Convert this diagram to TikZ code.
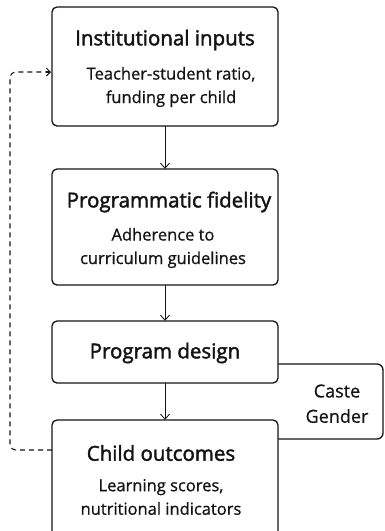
\documentclass[tikz,border=0pt]{standalone}
\usepackage{fontspec}
\setmainfont{Open Sans}
\newfontfamily\titlefont{Open Sans}[FakeBold=2.0]
\newfontfamily\subfont{Open Sans}[FakeBold=0.8]
\usetikzlibrary{arrows.meta}
\definecolor{ink}{HTML}{141414}
\begin{document}
\begin{tikzpicture}[x=1pt,y=-1pt,
  boxst/.style={draw=ink,line width=1.3pt,rounded corners=5pt,fill=white},
  titlest/.style={text=ink,font=\titlefont\fontsize{20.5}{22}\selectfont,inner sep=0pt},
  subst/.style={text=ink,font=\subfont\fontsize{16.5}{23.5}\selectfont,align=center,inner sep=0pt},
  sidest/.style={text=ink,font=\subfont\fontsize{18}{20}\selectfont,inner sep=0pt},
  arr/.style={draw=ink,line width=0.85pt,-{Straight Barb[length=5pt,width=9pt]}},
  fb/.style={draw=ink,line width=1.05pt,dash pattern=on 5pt off 4pt,rounded corners=6pt}]
\useasboundingbox (0,0) rectangle (384,531);
\begin{scope}
\clip (0,0) rectangle (384,531);
% Caste / Gender bracket box
\draw[draw=ink,line width=1.3pt,rounded corners=6pt] (270,364) -- (383,364) -- (383,439) -- (270,439);
\node[sidest] (caste) at (337,391) {Caste};
\node[sidest] (gender) at (337,416) {Gender};
% boxes
\path[boxst] (52,7) rectangle (278,126);
\path[boxst] (52,169) rectangle (278,285);
\path[boxst] (52,321) rectangle (278,383);
\path[boxst] (52,420) rectangle (278,536);
\node[draw=none,minimum width=226pt,minimum height=119pt] (box1) at (165,66.5) {};
\node[draw=none,minimum width=226pt,minimum height=116pt] (box2) at (165,227) {};
\node[draw=none,minimum width=226pt,minimum height=62pt] (box3) at (165,352) {};
\node[draw=none,minimum width=226pt,minimum height=116pt] (box4) at (165,478) {};
\end{scope}
% texts
\node[titlest] (t1) at (165,40) {Institutional inputs};
\node[subst] (s1) at (171,87) {Teacher-student ratio,\\funding per child};
\node[titlest] (t2) at (169,202) {Programmatic fidelity};
\node[subst] (s2) at (163,248) {Adherence to\\curriculum guidelines};
\node[titlest] (t3) at (165,353) {Program design};
\node[titlest] (t4) at (161,453) {Child outcomes};
\node[subst] (s4) at (161,497) {Learning scores,\\nutritional indicators};
% arrows
\draw[arr] (box1.south) -- (box2.north);
\draw[arr] (box2.south) -- (box3.north);
\draw[arr] (box3.south) -- (box4.north);
% feedback
\coordinate (fbl) at (52,450);
\coordinate (fbt) at (52,72);
\draw[fb] (fbl) -- (10,450) -- (10,72) -- ([xshift=-2pt]fbt);
\draw[draw=ink,line width=1.05pt,-{Straight Barb[length=4pt,width=8pt]}] (46,72) -- ([xshift=-1pt]fbt);
\end{tikzpicture}
\end{document}
